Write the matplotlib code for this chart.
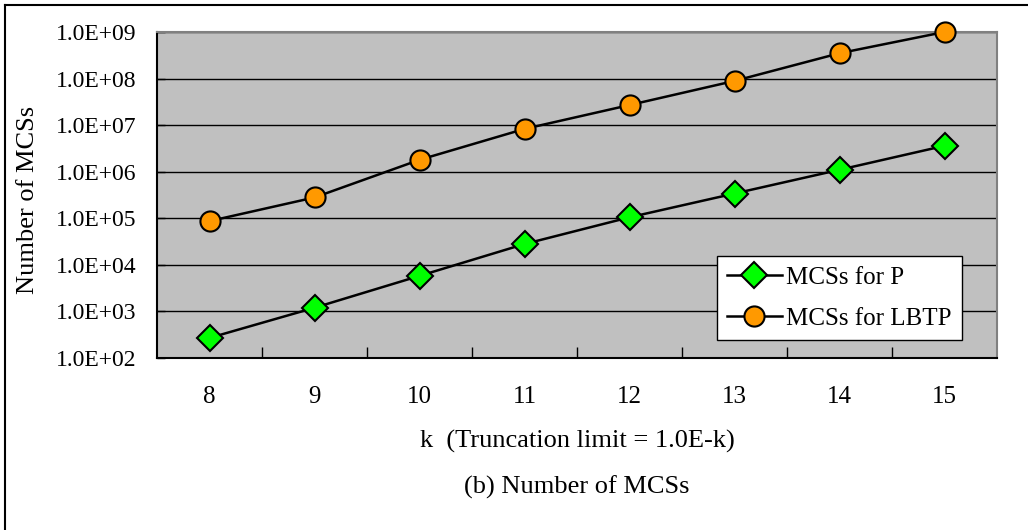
import matplotlib
matplotlib.use("Agg")
import matplotlib.pyplot as plt
from matplotlib.lines import Line2D

plt.rcParams['font.family'] = ['Liberation Serif', 'DejaVu Serif']

k_values = [8, 9, 10, 11, 12, 13, 14, 15]
mcs_p = [2.7e2, 1.2e3, 5.8e3, 2.8e4, 1.05e5, 3.4e5, 1.1e6, 3.6e6]
mcs_lbtp = [8.7e4, 2.8e5, 1.8e6, 8.3e6, 2.7e7, 8.9e7, 3.5e8, 1.0e9]
y_ticks = [1e2, 1e3, 1e4, 1e5, 1e6, 1e7, 1e8, 1e9]
y_tick_labels = ["1.0E+02", "1.0E+03", "1.0E+04", "1.0E+05", "1.0E+06",
                 "1.0E+07", "1.0E+08", "1.0E+09"]
legend_labels = ["MCSs for P", "MCSs for LBTP"]

W, H = 1028, 530
fig = plt.figure(figsize=(W / 100, H / 100), dpi=100)
ax = fig.add_axes([157 / W, 1 - 358 / H, (997 - 157) / W, (358 - 32) / H])
ax.set_facecolor('#c0c0c0')

x = list(range(len(k_values)))
ax.plot(x, mcs_p, color='black', lw=1.8, marker='D', markersize=13,
        markerfacecolor='#00ff00', markeredgecolor='black', markeredgewidth=1.5,
        label=legend_labels[0], zorder=3, clip_on=False)
ax.plot(x, mcs_lbtp, color='black', lw=1.8, marker='o', markersize=14.5,
        markerfacecolor='#ff9900', markeredgecolor='black', markeredgewidth=1.5,
        label=legend_labels[1], zorder=3, clip_on=False)

ax.set_yscale('log')
ax.set_ylim(1e2, 1e9)
ax.set_xlim(-0.5, len(k_values) - 0.5)
ax.set_yticks(y_ticks)
ax.set_yticklabels(y_tick_labels)
ax.yaxis.set_minor_locator(matplotlib.ticker.NullLocator())
ax.tick_params(axis='y', length=6, width=1, direction='in', labelsize=17, pad=14.5)
ax.grid(axis='y', color='black', lw=1)
ax.set_axisbelow(True)

# category labels at centers, ticks at boundaries
ax.set_xticks([i + 0.5 for i in range(len(k_values) - 1)])
ax.set_xticklabels([])
ax.tick_params(axis='x', length=8, width=1, direction='in')
for i, kv in enumerate(k_values):
    ax.text(i, -0.12, str(kv), transform=ax.get_xaxis_transform(),
            ha='center', va='center', fontsize=18)

for s in ['left', 'bottom']:
    ax.spines[s].set_color('black')
    ax.spines[s].set_linewidth(1.5)
for s in ['top', 'right']:
    ax.spines[s].set_color('#808080')
    ax.spines[s].set_linewidth(1.5)

ax.set_ylabel("Number of MCSs", fontsize=19)
ax.yaxis.set_label_coords(-0.141, 0.485)
fig.text((157 + 997) / 2 / W, 1 - 441 / H, "k  (Truncation limit = 1.0E-k)",
         ha='center', va='center', fontsize=19)
fig.text((157 + 997) / 2 / W, 1 - 487 / H, "(b) Number of MCSs",
         ha='center', va='center', fontsize=19)

leg = ax.legend(loc='lower right', bbox_to_anchor=(962 / W, 1 - 340 / H),
                bbox_transform=fig.transFigure, fontsize=18, frameon=True,
                fancybox=False, edgecolor='black', framealpha=1,
                handlelength=2.2, borderpad=0.4, labelspacing=0.75,
                handletextpad=0.2, borderaxespad=0)
leg.get_frame().set_linewidth(1)

# outer frame (only left and top visible)
fig.add_artist(Line2D([5 / W, 5 / W], [0, 1 - 5 / H], transform=fig.transFigure,
                      color='black', lw=1.5))
fig.add_artist(Line2D([5 / W, 1], [1 - 5 / H, 1 - 5 / H], transform=fig.transFigure,
                      color='black', lw=1.5))

fig.savefig("out.png", dpi=100)
